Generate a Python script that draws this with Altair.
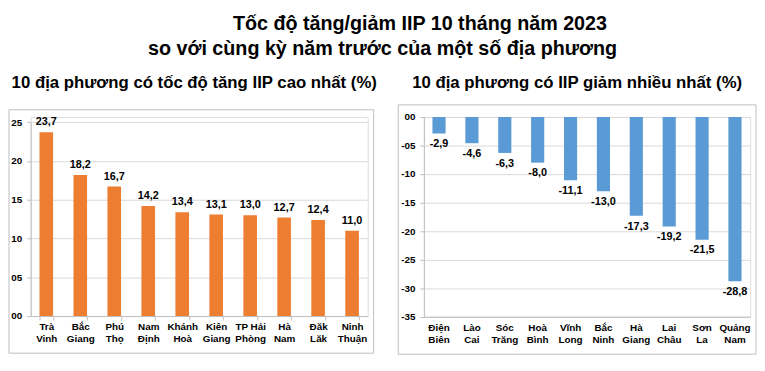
import altair as alt
import pandas as pd

# ---- data ----
title_line1 = "Tốc độ tăng/giảm IIP 10 tháng năm 2023"
title_line2 = "so với cùng kỳ năm trước của một số địa phương"
left_title = "10 địa phương có tốc độ tăng IIP cao nhất (%)"
right_title = "10 địa phương có IIP giảm nhiều nhất (%)"

left_names = ["Trà Vinh", "Bắc Giang", "Phú Thọ", "Nam Định", "Khánh Hoà",
              "Kiên Giang", "TP Hải Phòng", "Hà Nam", "Đăk Lăk", "Ninh Thuận"]
left_values = [23.7, 18.2, 16.7, 14.2, 13.4, 13.1, 13.0, 12.7, 12.4, 11.0]

right_names = ["Điện Biên", "Lào Cai", "Sóc Trăng", "Hoà Bình", "Vĩnh Long",
               "Bắc Ninh", "Hà Giang", "Lai Châu", "Sơn La", "Quảng Nam"]
right_values = [-2.9, -4.6, -6.3, -8.0, -11.1, -13.0, -17.3, -19.2, -21.5, -28.8]

left_ticks = [0, 5, 10, 15, 20, 25]
right_ticks = [0, -5, -10, -15, -20, -25, -30, -35]

FONT = "Liberation Sans"
ORANGE = "#ED7D31"
BLUE = "#5B9BD5"
GRID = "#d9d9d9"
AXIS = "#bfbfbf"
FRAME = "#bfbfbf"

LW, LH = 342, 202.0      # left plot; value axis occupies 5.4 .. 202
L_TOP = 5.4
RW, RH = 331, 202.7

split_expr = ("[slice(datum.label, 0, lastindexof(datum.label, ' ')), "
              "slice(datum.label, lastindexof(datum.label, ' ') + 1)]")
num_expr = "replace(replace(format(datum.value, '.1f'), '.', ','), '\u2212', '-')"


def x_axis(ticks):
    extra = dict(ticks=True, tickBand="extent", tickSize=4, tickColor=AXIS,
                 labelPadding=2) if ticks else dict(ticks=False, labelPadding=6)
    return alt.Axis(title=None, labelAngle=0, labelExpr=split_expr, labelFont=FONT,
                    labelFontSize=10, labelFontWeight="bold", labelColor="#000",
                    labelLineHeight=12, domainColor=AXIS, grid=False,
                    labelBaseline="top", **extra)


def y_axis(values, expr):
    return alt.Axis(title=None, values=values, labelExpr=expr, labelFont=FONT,
                    labelFontSize=10, labelFontWeight="bold", labelColor="#000",
                    tickColor=AXIS, tickSize=4, labelPadding=5, domainColor=AXIS,
                    gridColor=GRID, grid=True)


def frame(x1, x2, y1, y2):
    return alt.Chart(pd.DataFrame({"f": [0]})).mark_rect(
        fill="white", fillOpacity=0, stroke=FRAME, strokeWidth=1
    ).encode(x=alt.value(x1), x2=alt.value(x2), y=alt.value(y1), y2=alt.value(y2))


dfL = pd.DataFrame({"name": left_names, "value": left_values})
dfR = pd.DataFrame({"name": right_names, "value": right_values})

lx = alt.X("name:N", sort=None, axis=x_axis(True),
           scale=alt.Scale(paddingInner=0.6, paddingOuter=0.26))
ly = alt.Y("value:Q", scale=alt.Scale(domain=[0, 25], nice=False, range=[LH, L_TOP]),
           axis=y_axis(left_ticks, "datum.value < 10 ? '0' + datum.value : '' + datum.value"))

left_bars = alt.Chart(dfL).mark_bar(color=ORANGE).encode(x=lx, y=ly)
left_text = alt.Chart(dfL).transform_calculate(lab=num_expr).mark_text(
    font=FONT, fontSize=11, fontWeight="bold", color="#000",
    baseline="alphabetic", dy=-7).encode(x=lx, y=ly, text="lab:N")

left = alt.layer(
    frame(-22, LW + 6, L_TOP - 12.7, LH + 37.7), left_bars, left_text
).properties(
    width=LW, height=LH,
    title=alt.TitleParams(left_title, font=FONT, fontSize=17, fontWeight="bold",
                          color="#000", anchor="middle", offset=17.5, dx=-5),
)

rx = alt.X("name:N", sort=None, axis=x_axis(False),
           scale=alt.Scale(paddingInner=0.6, paddingOuter=0.26))
ry = alt.Y("value:Q", scale=alt.Scale(domain=[-35, 0], nice=False),
           axis=y_axis(right_ticks,
                       "datum.value == 0 ? '00' : (datum.value > -10 ? '-0' + abs(datum.value) : '' + datum.value)"))

right_bars = alt.Chart(dfR).mark_bar(color=BLUE).encode(x=rx, y=ry)
right_text = alt.Chart(dfR).transform_calculate(lab=num_expr).mark_text(
    font=FONT, fontSize=11, fontWeight="bold", color="#000",
    baseline="alphabetic", dy=14).encode(x=rx, y=ry, text="lab:N")

right = alt.layer(
    frame(-26, RW + 6, -12.3, RH + 38), right_bars, right_text
).properties(
    width=RW, height=RH,
    title=alt.TitleParams(right_title, font=FONT, fontSize=17, fontWeight="bold",
                          color="#000", anchor="middle", offset=12.5, dx=-10),
)

inner = alt.hconcat(left, right, spacing=19).properties(
    title=alt.TitleParams(title_line2, font=FONT, fontSize=20, fontWeight="bold",
                          color="#000", anchor="middle", offset=15)
)

chart = alt.vconcat(inner).properties(
    title=alt.TitleParams(title_line1, font=FONT, fontSize=20, fontWeight="bold",
                          color="#000", anchor="middle", dx=38, offset=5),
    padding={"left": 0, "right": 0, "top": 4, "bottom": 0},
).configure_view(stroke=None).configure(background="white")

chart.save("out.html", embed_options={"renderer": "svg", "actions": False})
